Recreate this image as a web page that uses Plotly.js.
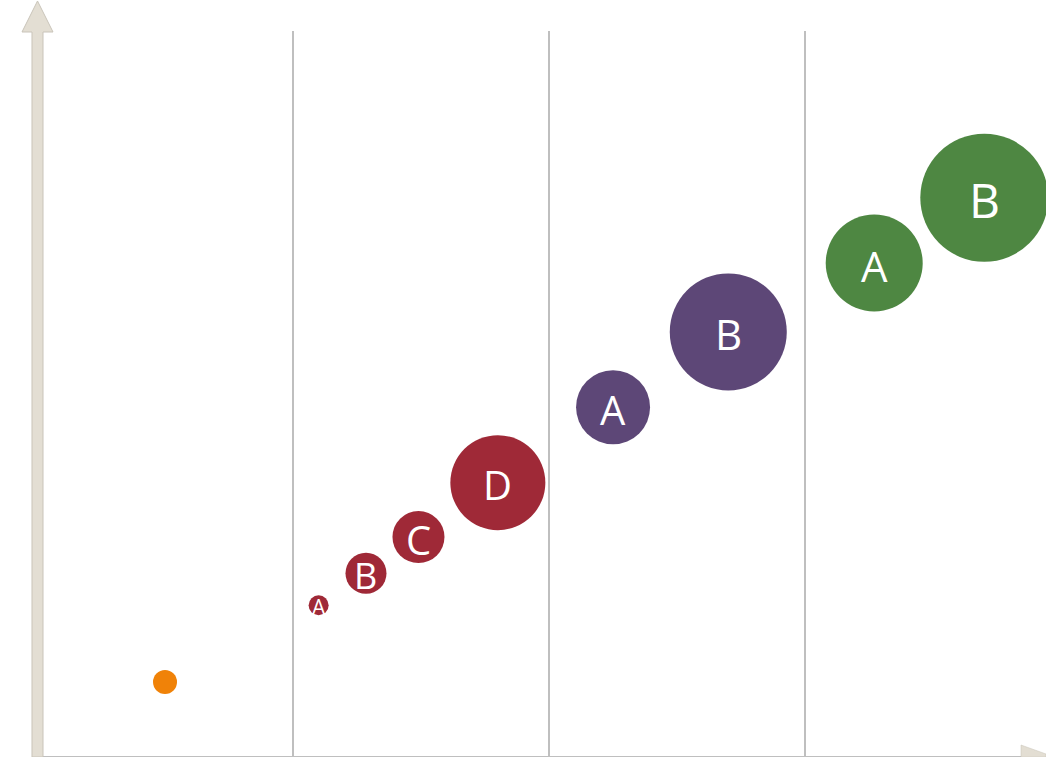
<!DOCTYPE html>
<html>
<head>
<meta charset="utf-8">
<script src="https://cdn.plot.ly/plotly-3.0.1.min.js"></script>
<style>html,body{margin:0;padding:0;background:#fff;}#chart{width:1046px;height:757px;}</style>
</head>
<body>
<div id="chart"></div>
<script>
// ---- data ----
const orangeX = [0.50];
const orangeY = [10.2];
const orangeSize = [24];
const orangeLabels = [''];

const redX = [1.10, 1.285, 1.49, 1.80];
const redY = [20.8, 25.2, 30.2, 37.7];
const redSize = [20, 41, 52, 95];
const redLabels = ['A', 'B', 'C', 'D'];

const purpleX = [2.25, 2.70];
const purpleY = [48.1, 58.5];
const purpleSize = [74, 117];
const purpleLabels = ['A', 'B'];

const greenX = [3.27, 3.70];
const greenY = [68.0, 77.0];
const greenSize = [97, 128];
const greenLabels = ['A', 'B'];

const gridTicks = [1, 2, 3];

// ---- styles ----
const FONT = '"Open Sans", "Noto Sans", sans-serif';
function series(x, y, s, color) {
  return {
    type: 'scatter', mode: 'markers',
    x: x, y: y,
    marker: {size: s, sizemode: 'diameter', color: color, opacity: 1, line: {width: 0}},
    hoverinfo: 'skip', showlegend: false
  };
}
function labels(x, y, txt, sizes) {
  return txt.map((t, i) => ({
    x: x[i], y: y[i], xref: 'x', yref: 'y', text: t, showarrow: false,
    xanchor: 'center', yanchor: 'middle', yshift: -2,
    font: {family: FONT, color: '#ffffff', size: sizes[i]}
  })).filter(a => a.text !== '');
}

const traces = [
  series(orangeX, orangeY, orangeSize, '#F08208'),
  series(redX, redY, redSize, '#9F2937'),
  series(purpleX, purpleY, purpleSize, '#5D4777'),
  series(greenX, greenY, greenSize, '#4E8742')
];

const annotations = [].concat(
  labels(redX, redY, redLabels, [21, 36, 40, 40]),
  labels(purpleX, purpleY, purpleLabels, [40, 42]),
  labels(greenX, greenY, greenLabels, [42, 48])
);

const beige = '#E3DED3';
const beigeLine = '#C9C4B9';

const layout = {
  width: 1046, height: 757,
  margin: {l: 37, r: 0, t: 31, b: 1, pad: 0},
  paper_bgcolor: '#ffffff', plot_bgcolor: '#ffffff',
  xaxis: {
    range: [0, 3.941], tickvals: gridTicks, showticklabels: false, ticks: '',
    showgrid: true, gridcolor: '#BFBFBF', gridwidth: 2,
    zeroline: false, showline: true, linecolor: '#BFBFBF', linewidth: 2,
    fixedrange: true
  },
  yaxis: {
    range: [0, 100], showticklabels: false, ticks: '', showgrid: false,
    zeroline: false, showline: false, fixedrange: true
  },
  annotations: annotations,
  shapes: [
    {type: 'path', xref: 'paper', yref: 'paper', layer: 'above',
     path: 'M -0.00496,-0.0014 L -0.00496,0.99862 L -0.01487,0.99862 L 0.0005,1.0414 L 0.01586,0.99862 L 0.00595,0.99862 L 0.00595,-0.0014 Z',
     fillcolor: beige, line: {color: beigeLine, width: 1}},
    {type: 'path', xref: 'paper', yref: 'paper', layer: 'above',
     path: 'M 0.97522,0.01517 L 1.0,0.0028 L 1.0,-0.0014 L 0.97522,-0.0014 Z',
     fillcolor: beige, line: {color: beigeLine, width: 0.5}}
  ],
  showlegend: false
};

Plotly.newPlot('chart', traces, layout, {displayModeBar: false, staticPlot: true});
</script>
</body>
</html>
